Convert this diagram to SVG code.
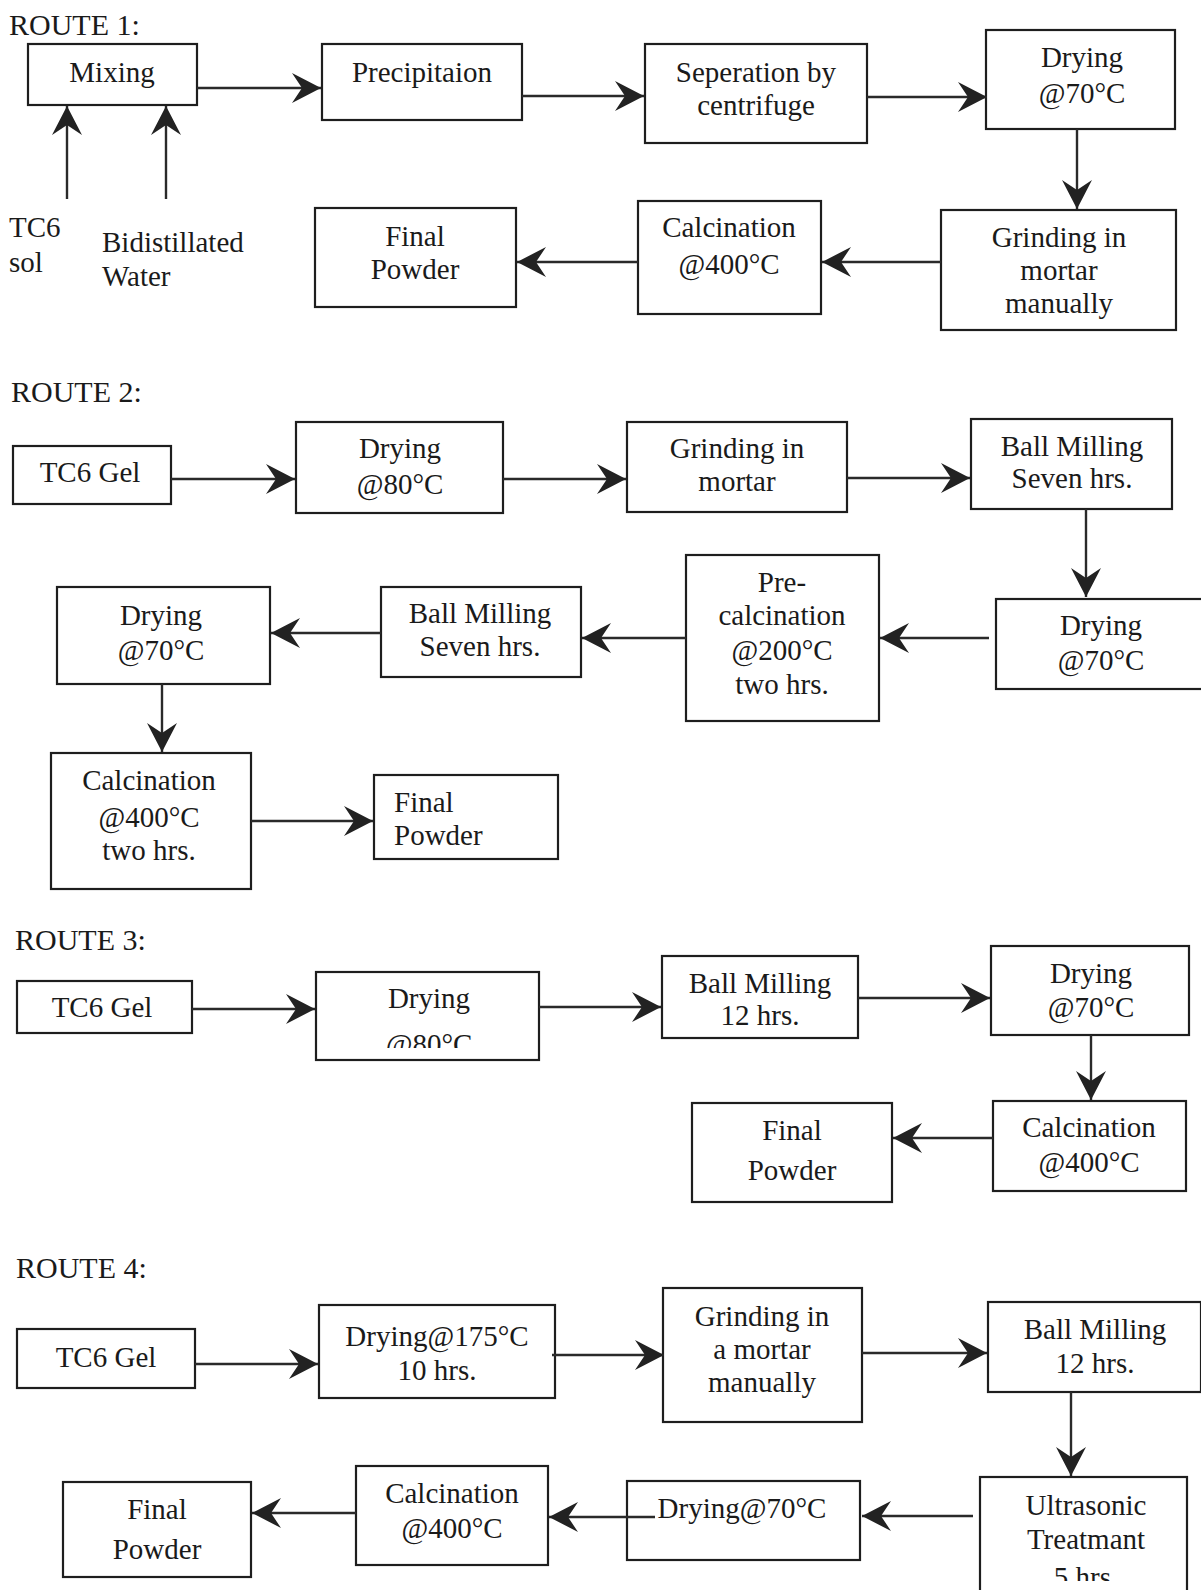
<svg xmlns="http://www.w3.org/2000/svg" width="1201" height="1590" viewBox="0 0 1201 1590">
<style>
.bg{fill:#ffffff}
.box{fill:none;stroke:#1e1e1e;stroke-width:2.2}
.t{font-family:"Liberation Serif","Times New Roman",serif;font-size:29px;fill:#1a1a1a;text-anchor:middle}
.tl{font-family:"Liberation Serif","Times New Roman",serif;font-size:29px;fill:#1a1a1a;text-anchor:start}
.route{font-family:"Liberation Serif","Times New Roman",serif;font-size:30px;fill:#1a1a1a}
.c{fill:none;stroke:#2a2a2a;stroke-width:2.4}
</style>
<defs>
<marker id="ah" viewBox="-30 -16 32 32" refX="0" refY="0" markerWidth="32" markerHeight="32" markerUnits="userSpaceOnUse" orient="auto">
<path d="M0,0 L-29,-15 L-19,0 L-29,15 Z" fill="#222"/>
</marker>
<clipPath id="clip80"><rect x="300" y="960" width="260" height="88"/></clipPath>
<clipPath id="clipBottom"><rect x="900" y="1460" width="301" height="121"/></clipPath>
</defs>
<rect class="bg" x="0" y="0" width="1201" height="1590"/>

<!-- ROUTE 1 -->
<text class="route" x="9" y="35">ROUTE 1:</text>
<g id="r1-mixing"><rect class="box" x="28" y="44" width="169" height="61"/><text class="t" x="112" y="82">Mixing</text></g>
<g id="r1-precip"><rect class="box" x="322" y="44" width="200" height="76"/><text class="t" x="422" y="82">Precipitaion</text></g>
<g id="r1-sep"><rect class="box" x="645" y="44" width="222" height="99"/><text class="t" x="756" y="82">Seperation by</text><text class="t" x="756" y="115">centrifuge</text></g>
<g id="r1-drying"><rect class="box" x="986" y="30" width="189" height="99"/><text class="t" x="1082" y="67">Drying</text><text class="t" x="1082" y="103">@70°C</text></g>
<g id="r1-grinding"><rect class="box" x="941" y="210" width="235" height="120"/><text class="t" x="1059" y="247">Grinding in</text><text class="t" x="1059" y="280">mortar</text><text class="t" x="1059" y="313">manually</text></g>
<g id="r1-calc"><rect class="box" x="638" y="201" width="183" height="113"/><text class="t" x="729" y="237">Calcination</text><text class="t" x="729" y="274">@400°C</text></g>
<g id="r1-final"><rect class="box" x="315" y="208" width="201" height="99"/><text class="t" x="415" y="246">Final</text><text class="t" x="415" y="279">Powder</text></g>
<g id="r1-tc6"><text class="tl" x="9" y="237">TC6</text><text class="tl" x="9" y="272">sol</text></g>
<g id="r1-water"><text class="tl" x="102" y="252">Bidistillated</text><text class="tl" x="102" y="286">Water</text></g>

<!-- ROUTE 2 -->
<text class="route" x="11" y="402">ROUTE 2:</text>
<g id="r2-tc6"><rect class="box" x="13" y="446" width="158" height="58"/><text class="t" x="90" y="482">TC6 Gel</text></g>
<g id="r2-dry80"><rect class="box" x="296" y="422" width="207" height="91"/><text class="t" x="400" y="458">Drying</text><text class="t" x="400" y="494">@80°C</text></g>
<g id="r2-grind"><rect class="box" x="627" y="422" width="220" height="90"/><text class="t" x="737" y="458">Grinding in</text><text class="t" x="737" y="491">mortar</text></g>
<g id="r2-ball1"><rect class="box" x="971" y="419" width="201" height="90"/><text class="t" x="1072" y="456">Ball Milling</text><text class="t" x="1072" y="488">Seven hrs.</text></g>
<g id="r2-dry70a"><rect class="box" x="996" y="599" width="220" height="90"/><text class="t" x="1101" y="635">Drying</text><text class="t" x="1101" y="670">@70°C</text></g>
<g id="r2-precalc"><rect class="box" x="686" y="555" width="193" height="166"/><text class="t" x="782" y="592">Pre-</text><text class="t" x="782" y="625">calcination</text><text class="t" x="782" y="660">@200°C</text><text class="t" x="782" y="694">two hrs.</text></g>
<g id="r2-ball2"><rect class="box" x="381" y="587" width="200" height="90"/><text class="t" x="480" y="623">Ball Milling</text><text class="t" x="480" y="656">Seven hrs.</text></g>
<g id="r2-dry70b"><rect class="box" x="57" y="587" width="213" height="97"/><text class="t" x="161" y="625">Drying</text><text class="t" x="161" y="660">@70°C</text></g>
<g id="r2-calc"><rect class="box" x="51" y="753" width="200" height="136"/><text class="t" x="149" y="790">Calcination</text><text class="t" x="149" y="827">@400°C</text><text class="t" x="149" y="860">two hrs.</text></g>
<g id="r2-final"><rect class="box" x="374" y="775" width="184" height="84"/><text class="tl" x="394" y="812">Final</text><text class="tl" x="394" y="845">Powder</text></g>

<!-- ROUTE 3 -->
<text class="route" x="15" y="950">ROUTE 3:</text>
<g id="r3-tc6"><rect class="box" x="17" y="981" width="175" height="52"/><text class="t" x="102" y="1017">TC6 Gel</text></g>
<g id="r3-dry80"><rect class="box" x="316" y="972" width="223" height="88"/><text class="t" x="429" y="1008">Drying</text><text class="t" x="429" y="1054" clip-path="url(#clip80)">@80°C</text></g>
<g id="r3-ball"><rect class="box" x="662" y="956" width="196" height="82"/><text class="t" x="760" y="993">Ball Milling</text><text class="t" x="760" y="1025">12 hrs.</text></g>
<g id="r3-dry70"><rect class="box" x="991" y="946" width="198" height="89"/><text class="t" x="1091" y="983">Drying</text><text class="t" x="1091" y="1017">@70°C</text></g>
<g id="r3-calc"><rect class="box" x="993" y="1101" width="193" height="90"/><text class="t" x="1089" y="1137">Calcination</text><text class="t" x="1089" y="1172">@400°C</text></g>
<g id="r3-final"><rect class="box" x="692" y="1103" width="200" height="99"/><text class="t" x="792" y="1140">Final</text><text class="t" x="792" y="1180">Powder</text></g>

<!-- ROUTE 4 -->
<text class="route" x="16" y="1278">ROUTE 4:</text>
<g id="r4-tc6"><rect class="box" x="17" y="1329" width="178" height="59"/><text class="t" x="106" y="1367">TC6 Gel</text></g>
<g id="r4-dry175"><rect class="box" x="319" y="1305" width="236" height="93"/><text class="t" x="437" y="1346">Drying@175°C</text><text class="t" x="437" y="1380">10 hrs.</text></g>
<g id="r4-grind"><rect class="box" x="663" y="1288" width="199" height="134"/><text class="t" x="762" y="1326">Grinding in</text><text class="t" x="762" y="1359">a mortar</text><text class="t" x="762" y="1392">manually</text></g>
<g id="r4-ball"><rect class="box" x="988" y="1302" width="213" height="90"/><text class="t" x="1095" y="1339">Ball Milling</text><text class="t" x="1095" y="1373">12 hrs.</text></g>
<g id="r4-ultra"><rect class="box" x="980" y="1477" width="207" height="130"/><text class="t" x="1086" y="1515">Ultrasonic</text><text class="t" x="1086" y="1549">Treatmant</text><text class="t" x="1086" y="1587" clip-path="url(#clipBottom)">5 hrs.</text></g>
<g id="r4-dry70"><rect class="box" x="627" y="1481" width="233" height="79"/><text class="t" x="742" y="1518">Drying@70°C</text></g>
<g id="r4-calc"><rect class="box" x="356" y="1466" width="192" height="99"/><text class="t" x="452" y="1503">Calcination</text><text class="t" x="452" y="1538">@400°C</text></g>
<g id="r4-final"><rect class="box" x="63" y="1482" width="188" height="95"/><text class="t" x="157" y="1519">Final</text><text class="t" x="157" y="1559">Powder</text></g>

<!-- CONNECTORS -->
<g id="connectors" marker-end="url(#ah)">
<line class="c" x1="67" y1="199" x2="67" y2="106" marker-end="url(#ah)"/>
<line class="c" x1="166" y1="199" x2="166" y2="106" marker-end="url(#ah)"/>
<line class="c" x1="197" y1="88" x2="321" y2="88" marker-end="url(#ah)"/>
<line class="c" x1="522" y1="96" x2="644" y2="96" marker-end="url(#ah)"/>
<line class="c" x1="867" y1="97" x2="987" y2="97" marker-end="url(#ah)"/>
<line class="c" x1="1077" y1="129" x2="1077" y2="209" marker-end="url(#ah)"/>
<line class="c" x1="941" y1="262" x2="822" y2="262" marker-end="url(#ah)"/>
<line class="c" x1="638" y1="262" x2="517" y2="262" marker-end="url(#ah)"/>

<line class="c" x1="171" y1="479" x2="295" y2="479" marker-end="url(#ah)"/>
<line class="c" x1="503" y1="479" x2="626" y2="479" marker-end="url(#ah)"/>
<line class="c" x1="847" y1="478" x2="970" y2="478" marker-end="url(#ah)"/>
<line class="c" x1="1086" y1="509" x2="1086" y2="597" marker-end="url(#ah)"/>
<line class="c" x1="989" y1="638" x2="880" y2="638" marker-end="url(#ah)"/>
<line class="c" x1="686" y1="638" x2="582" y2="638" marker-end="url(#ah)"/>
<line class="c" x1="381" y1="633" x2="271" y2="633" marker-end="url(#ah)"/>
<line class="c" x1="162" y1="684" x2="162" y2="752" marker-end="url(#ah)"/>
<line class="c" x1="251" y1="821" x2="373" y2="821" marker-end="url(#ah)"/>

<line class="c" x1="192" y1="1009" x2="315" y2="1009" marker-end="url(#ah)"/>
<line class="c" x1="539" y1="1007" x2="661" y2="1007" marker-end="url(#ah)"/>
<line class="c" x1="858" y1="998" x2="990" y2="998" marker-end="url(#ah)"/>
<line class="c" x1="1091" y1="1035" x2="1091" y2="1100" marker-end="url(#ah)"/>
<line class="c" x1="993" y1="1138" x2="893" y2="1138" marker-end="url(#ah)"/>

<line class="c" x1="195" y1="1364" x2="318" y2="1364" marker-end="url(#ah)"/>
<line class="c" x1="552" y1="1355" x2="664" y2="1355" marker-end="url(#ah)"/>
<line class="c" x1="862" y1="1353" x2="987" y2="1353" marker-end="url(#ah)"/>
<line class="c" x1="1071" y1="1392" x2="1071" y2="1476" marker-end="url(#ah)"/>
<line class="c" x1="973" y1="1516" x2="862" y2="1516" marker-end="url(#ah)"/>
<line class="c" x1="655" y1="1517" x2="549" y2="1517" marker-end="url(#ah)"/>
<line class="c" x1="356" y1="1513" x2="252" y2="1513" marker-end="url(#ah)"/>
</g>
</svg>
